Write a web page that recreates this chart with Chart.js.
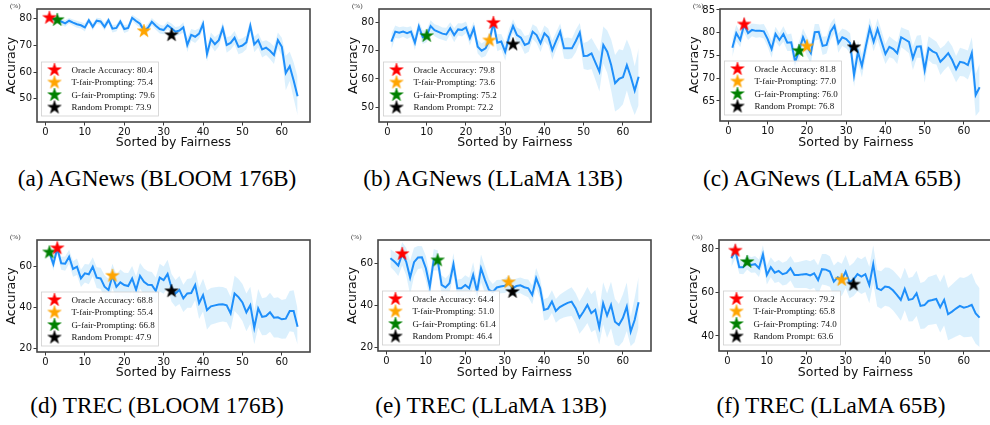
<!DOCTYPE html>
<html>
<head>
<meta charset="utf-8">
<script src="https://cdn.jsdelivr.net/npm/chart.js@4.4.0/dist/chart.umd.min.js"></script>
<style>
  body { margin: 0; background: #fff; }
  #wrap { position: relative; width: 990px; height: 425px; overflow: hidden; background: #fff; }
  canvas { position: absolute; }
  .cap { position: absolute; font-family: "Liberation Serif", "Times New Roman", serif; font-size: 24px;
         line-height: 24px; color: #000; white-space: nowrap; transform: translateX(-50%) scaleX(0.97); }
</style>
</head>
<body>
<div id="wrap">
  <canvas id="pa" width="330" height="160" style="left:0px;top:0px;width:330px;height:160px"></canvas>
  <canvas id="pb" width="330" height="160" style="left:330px;top:0px;width:330px;height:160px"></canvas>
  <canvas id="pc" width="340" height="160" style="left:660px;top:0px;width:340px;height:160px"></canvas>
  <canvas id="pd" width="330" height="165" style="left:0px;top:225px;width:330px;height:165px"></canvas>
  <canvas id="pe" width="330" height="165" style="left:330px;top:225px;width:330px;height:165px"></canvas>
  <canvas id="pf" width="340" height="165" style="left:660px;top:225px;width:340px;height:165px"></canvas>
  <div class="cap" style="left:157px;top:166px">(a) AGNews (BLOOM 176B)</div>
  <div class="cap" style="left:493px;top:166px">(b) AGNews (LLaMA 13B)</div>
  <div class="cap" style="left:832px;top:166px">(c) AGNews (LLaMA 65B)</div>
  <div class="cap" style="left:157px;top:393px">(d) TREC (BLOOM 176B)</div>
  <div class="cap" style="left:491px;top:393px">(e) TREC (LLaMA 13B)</div>
  <div class="cap" style="left:831px;top:393px">(f) TREC (LLaMA 65B)</div>
</div>
<script>
/* ---------------------------- Data ------------------------------------*/

const xTicks = [0, 10, 20, 30, 40, 50, 60];
const legendNames = ['Oracle Accuracy', 'T-fair-Prompting', 'G-fair-Prompting', 'Random Prompt'];
const starColors = ['#ff0000', '#ffa500', '#008000', '#000000'];

// (a) AGNews, BLOOM 176B
const meanA = [80.4, 79.8, 79.6, 79.0, 78.3, 79.3, 78.6, 78.0, 77.6, 76.8,
               79.5, 77.0, 79.3, 79.0, 77.0, 79.5, 76.3, 76.6, 79.0, 76.2,
               76.6, 80.4, 79.2, 78.2, 75.6, 76.6, 78.9, 77.4, 76.2, 75.8,
               77.6, 76.5, 75.2, 75.6, 76.8, 70.2, 74.0, 73.3, 74.5, 78.1,
               66.8, 72.4, 70.5, 72.0, 76.5, 70.2, 71.0, 72.9, 69.5, 70.0,
               71.2, 77.4, 70.4, 72.0, 68.5, 69.2, 68.0, 66.4, 72.0, 69.5,
               59.7, 62.2, 56.9, 51.0];
const spreadA = [1.0, 1.0, 1.1, 1.2, 1.3, 1.0, 1.2, 1.3, 1.2, 1.5,
                 1.0, 1.4, 1.1, 1.2, 1.5, 1.1, 1.4, 1.3, 1.2, 1.5,
                 1.3, 1.1, 1.4, 1.5, 1.3, 1.6, 1.4, 1.5, 1.7, 1.6,
                 1.5, 1.8, 1.7, 1.6, 1.9, 2.6, 2.2, 2.4, 2.0, 1.9,
                 2.8, 2.5, 2.7, 2.4, 2.2, 2.9, 2.6, 2.5, 2.8, 2.7,
                 2.6, 2.3, 2.9, 2.7, 3.0, 2.8, 3.1, 3.3, 2.9, 3.4,
                 6.5, 5.5, 6.8, 7.2];
const starXA = [1, 25, 3, 32];
const starYA = [80.4, 75.4, 79.6, 73.9];
const yTicksA = [50, 60, 70, 80];

// (b) AGNews, LLaMA 13B
const meanB = [73.2, 76.7, 76.3, 76.7, 76.2, 76.7, 72.8, 78.5, 74.7, 75.2,
               78.7, 77.2, 76.6, 76.0, 75.7, 77.9, 75.5, 77.5, 77.3, 78.2,
               74.4, 77.9, 71.4, 70.0, 70.8, 73.6, 79.8, 72.8, 73.2, 69.6,
               74.9, 78.7, 75.5, 74.6, 72.0, 72.6, 76.7, 75.5, 72.6, 76.1,
               74.7, 70.2, 73.5, 76.7, 70.8, 70.8, 70.8, 73.4, 76.4, 68.1,
               68.2, 69.0, 65.8, 62.6, 72.0, 69.6, 64.9, 58.5, 60.0, 60.6,
               64.9, 60.8, 55.9, 60.8];
const spreadB = [2.8, 2.2, 2.0, 1.8, 2.1, 1.9, 2.6, 2.0, 2.4, 2.2,
                 2.0, 2.1, 2.3, 2.2, 2.4, 2.1, 2.5, 2.2, 2.3, 2.1,
                 2.6, 2.3, 2.4, 2.5, 2.7, 2.8, 2.6, 3.0, 2.7, 3.1,
                 2.8, 2.4, 2.7, 2.9, 3.2, 3.0, 2.6, 2.9, 3.1, 2.8,
                 3.0, 3.4, 3.1, 2.9, 3.6, 3.8, 3.5, 4.0, 3.4, 4.6,
                 5.0, 5.5, 6.2, 7.0, 6.5, 7.5, 9.0, 10.0, 10.5, 9.5,
                 9.0, 9.8, 8.6, 10.0];
const starXB = [27, 26, 10, 32];
const starYB = [79.8, 73.6, 75.2, 72.2];
const yTicksB = [50, 60, 70, 80];

// (c) AGNews, LLaMA 65B
const meanC = [76.7, 79.9, 78.4, 81.8, 79.9, 80.6, 80.4, 80.4, 80.3, 78.6,
               76.4, 79.7, 78.4, 79.7, 77.8, 77.9, 73.6, 76.0, 79.0, 77.0,
               75.5, 80.1, 80.2, 77.1, 77.3, 80.2, 81.5, 77.7, 79.0, 78.6,
               77.7, 70.7, 75.8, 72.7, 77.0, 81.0, 78.0, 80.8, 78.0, 75.3,
               76.9, 76.4, 75.5, 79.0, 78.5, 78.0, 74.4, 76.9, 77.0, 71.8,
               76.6, 75.9, 75.5, 73.6, 74.5, 75.5, 74.0, 72.0, 73.6, 73.4,
               72.9, 75.5, 66.3, 68.0];
const spreadC = [2.0, 1.8, 1.6, 1.8, 1.5, 1.4, 1.5, 1.4, 1.6, 1.7,
                 1.9, 1.6, 1.5, 1.7, 1.8, 1.9, 2.3, 2.0, 1.9, 2.1,
                 2.2, 1.8, 1.7, 2.0, 1.9, 1.8, 1.7, 2.1, 1.9, 2.0,
                 2.2, 2.6, 2.4, 2.5, 2.3, 2.2, 2.1, 2.3, 2.4, 2.2,
                 2.3, 2.1, 2.4, 2.2, 2.3, 2.5, 2.6, 2.4, 2.5, 2.8,
                 2.6, 2.7, 2.5, 2.9, 2.7, 2.8, 3.0, 2.9, 3.1, 3.0,
                 3.2, 3.5, 4.6, 5.2];
const starXC = [4, 20, 18, 32];
const starYC = [81.8, 77.0, 76.0, 76.8];
const yTicksC = [65, 70, 75, 80, 85];

// (d) TREC, BLOOM 176B
const meanD = [66.8, 61.0, 68.8, 61.5, 61.3, 64.7, 58.7, 59.8, 54.1, 56.6,
               56.1, 59.8, 54.5, 54.1, 50.1, 48.5, 55.4, 50.0, 52.2, 50.9,
               50.4, 54.1, 48.5, 55.4, 52.5, 51.0, 50.9, 48.0, 54.5, 53.3,
               56.3, 49.5, 46.8, 48.5, 44.4, 46.8, 47.0, 50.9, 42.0, 46.0,
               38.7, 40.5, 41.0, 41.4, 41.5, 41.0, 37.1, 46.8, 45.0, 42.4,
               37.6, 41.1, 30.1, 39.5, 35.4, 35.8, 37.6, 35.0, 35.2, 34.2,
               34.5, 38.2, 38.2, 30.6];
const spreadD = [2.5, 3.0, 2.8, 3.2, 3.5, 3.4, 3.8, 4.0, 4.2, 4.5,
                 4.8, 4.6, 5.0, 5.2, 5.5, 5.4, 5.8, 6.0, 6.2, 6.0,
                 6.3, 6.1, 6.5, 6.2, 6.4, 6.6, 6.3, 6.5, 6.8, 6.6,
                 6.9, 6.7, 6.5, 6.8, 6.6, 7.0, 7.2, 7.4, 7.6, 8.0,
                 9.5, 9.0, 8.8, 8.6, 8.4, 8.2, 8.0, 8.6, 8.8, 9.0,
                 9.2, 9.0, 8.0, 9.4, 9.0, 9.2, 9.5, 9.6, 9.8, 9.4,
                 9.6, 9.8, 10.2, 8.6];
const starXD = [3, 17, 1, 32];
const starYD = [68.8, 55.4, 66.8, 47.9];
const yTicksD = [20, 40, 60];

// (e) TREC, LLaMA 13B
const meanE = [62.4, 60.8, 58.9, 64.4, 60.8, 53.2, 60.5, 62.7, 62.8, 57.6,
               48.9, 61.6, 61.4, 49.7, 48.5, 50.5, 59.5, 48.1, 48.1, 49.7,
               48.1, 54.5, 46.6, 57.6, 52.1, 47.4, 46.4, 48.5, 49.0, 49.3,
               50.6, 48.2, 49.2, 49.5, 48.6, 48.1, 45.0, 52.9, 48.1, 37.9,
               38.5, 41.8, 37.4, 39.2, 40.3, 41.2, 41.8, 38.7, 34.2, 37.0,
               40.2, 36.3, 37.9, 29.5, 41.0, 35.2, 40.2, 32.3, 30.7, 34.0,
               39.4, 27.6, 33.1, 41.5];
const spreadE = [4.2, 4.5, 5.0, 5.5, 6.5, 8.0, 6.8, 5.5, 5.2, 5.8,
                 5.5, 5.0, 4.8, 4.6, 4.4, 4.5, 5.2, 4.2, 4.4, 4.6,
                 5.0, 6.0, 4.8, 6.5, 6.2, 5.0, 3.8, 3.5, 3.2, 3.4,
                 3.6, 3.8, 3.5, 3.7, 3.9, 4.2, 4.4, 4.8, 4.6, 5.0,
                 5.2, 5.4, 5.6, 5.8, 6.0, 6.4, 6.8, 7.2, 7.6, 8.0,
                 8.5, 9.0, 9.4, 8.0, 10.0, 10.5, 11.0, 10.8, 10.0, 11.2,
                 11.5, 7.0, 10.5, 12.0];
const starXE = [4, 31, 13, 32];
const starYE = [64.4, 51.0, 61.4, 46.4];
const yTicksE = [20, 40, 60];

// (f) TREC, LLaMA 65B
const meanF = [75.7, 79.2, 71.6, 71.6, 74.0, 72.6, 73.0, 71.1, 77.5, 68.0,
               71.6, 69.1, 69.9, 68.4, 69.0, 71.1, 68.0, 68.0, 68.3, 68.5,
               67.8, 68.8, 65.7, 70.7, 70.5, 69.6, 65.0, 67.0, 65.8, 69.6,
               64.7, 66.0, 68.4, 67.3, 68.4, 63.4, 73.0, 61.9, 61.1, 62.7,
               62.4, 61.0, 58.9, 56.6, 61.6, 56.6, 57.0, 59.6, 53.8, 54.2,
               56.1, 56.5, 57.0, 53.2, 56.6, 50.0, 51.2, 52.6, 53.8, 53.0,
               53.5, 54.3, 50.4, 48.4];
const spreadF = [4.0, 3.5, 3.0, 3.2, 3.4, 3.6, 3.8, 4.0, 4.2, 4.4,
                 4.6, 4.8, 5.0, 5.2, 5.4, 5.6, 5.8, 6.0, 6.2, 6.4,
                 6.5, 6.6, 6.8, 7.0, 7.2, 7.0, 7.4, 7.2, 7.4, 7.6,
                 7.4, 7.6, 7.8, 8.0, 8.2, 8.4, 8.6, 8.4, 8.6, 8.8,
                 9.0, 9.2, 9.4, 9.6, 9.8, 10.0, 10.2, 10.4, 10.6, 10.8,
                 11.0, 11.2, 11.4, 11.6, 11.8, 12.0, 12.4, 12.8, 13.2, 13.6,
                 14.0, 14.5, 14.0, 13.5];
const starXF = [2, 29, 5, 32];
const starYF = [79.2, 65.8, 74.0, 63.6];
const yTicksF = [40, 60, 80];

/* ---------------------------- Panels ------------------------------------*/

// area = [left, right, top, bottom] of the plot box inside each canvas
const panels = [
  { id: 'pa', w: 330, h: 160, area: [37, 310, 9, 122],  yMin: 41.3, yMax: 83.7, mean: meanA, spread: spreadA, sx: starXA, sy: starYA, yTicks: yTicksA },
  { id: 'pb', w: 330, h: 160, area: [49, 321, 9, 122],  yMin: 44.8, yMax: 84.7, mean: meanB, spread: spreadB, sx: starXB, sy: starYB, yTicks: yTicksB },
  { id: 'pc', w: 340, h: 160, area: [60, 332, 9, 121],  yMin: 60.6, yMax: 85.2, mean: meanC, spread: spreadC, sx: starXC, sy: starYC, yTicks: yTicksC },
  { id: 'pd', w: 330, h: 165, area: [37, 310, 15, 127], yMin: 18.3, yMax: 72.8, mean: meanD, spread: spreadD, sx: starXD, sy: starYD, yTicks: yTicksD },
  { id: 'pe', w: 330, h: 165, area: [48, 321, 15, 126], yMin: 18.4, yMax: 71.0, mean: meanE, spread: spreadE, sx: starXE, sy: starYE, yTicks: yTicksE },
  { id: 'pf', w: 340, h: 165, area: [59, 332, 15, 126], yMin: 33.1, yMax: 84.1, mean: meanF, spread: spreadF, sx: starXF, sy: starYF, yTicks: yTicksF },
];

// filled 5-point star used as point style
function makeStar(color, r) {
  const c = document.createElement('canvas');
  const s = Math.ceil(r * 2 + 2);
  c.width = s; c.height = s;
  const g = c.getContext('2d');
  g.beginPath();
  for (let k = 0; k < 10; k++) {
    const rr = k % 2 ? r * 0.39 : r;
    const a = -Math.PI / 2 + k * Math.PI / 5;
    g.lineTo(s / 2 + rr * Math.cos(a), s / 2 + rr * Math.sin(a));
  }
  g.closePath();
  g.fillStyle = color;
  g.fill();
  g.lineWidth = 0.5;
  g.strokeStyle = color;
  g.stroke();
  return c;
}
const stars = starColors.map(c => makeStar(c, 7));

const tickFont = { family: 'DejaVu Sans', size: 10 };
const titleFont = { family: 'DejaVu Sans', size: 12.5 };

function makeChart(p) {
  const ranks = p.mean.map((_, i) => i + 1);
  const pts = arr => arr.map((v, i) => ({ x: ranks[i], y: v }));
  const upper = p.mean.map((v, i) => v + p.spread[i]);
  const lower = p.mean.map((v, i) => v - p.spread[i]);

  const starSets = stars.map((img, k) => ({
    data: [{ x: p.sx[k], y: p.sy[k] }],
    showLine: false, pointStyle: img, pointRadius: 6, borderWidth: 0
  }));

  // frame, legend box and the little (%) note
  const decor = {
    id: 'decor',
    afterDatasetsDraw(chart) {
      const ctx = chart.ctx, a = chart.chartArea;
      ctx.save();
      ctx.strokeStyle = '#454545';
      ctx.lineWidth = 1.6;
      ctx.strokeRect(a.left, a.top, a.right - a.left, a.bottom - a.top);

      const bw = 117, bh = 54;
      const bx = a.left + 4.5, by = a.bottom - 6 - bh;
      ctx.fillStyle = 'rgba(255,255,255,0.85)';
      ctx.fillRect(bx, by, bw, bh);
      ctx.strokeStyle = '#cfcfcf';
      ctx.lineWidth = 0.8;
      ctx.strokeRect(bx, by, bw, bh);

      ctx.font = '9px "Liberation Serif"';
      ctx.fillStyle = '#111';
      ctx.textAlign = 'left';
      ctx.textBaseline = 'middle';
      [8, 20.5, 33, 45.5].forEach((dy, k) => {
        const img = stars[k];
        ctx.drawImage(img, bx + 13 - img.width / 2, by + dy - img.height / 2);
        ctx.fillText(legendNames[k] + ': ' + p.sy[k].toFixed(1), bx + 30, by + dy + 0.5);
      });

      ctx.font = '7px "Liberation Serif"';
      ctx.fillStyle = '#333';
      ctx.fillText('(%)', a.left - 27, a.top - 3);
      ctx.restore();
    }
  };

  const grid = { drawOnChartArea: false, drawTicks: true, tickLength: 3.5, color: '#222', lineWidth: 0.9 };

  new Chart(document.getElementById(p.id), {
    type: 'line',
    data: {
      datasets: [
        ...starSets,
        { data: pts(p.mean), borderColor: '#1f8ffa', borderWidth: 2, pointRadius: 0, tension: 0 },
        { data: pts(upper), borderWidth: 0, borderColor: 'rgba(0,0,0,0)', pointRadius: 0, fill: '+1',
          backgroundColor: 'rgba(135,206,250,0.3)' },
        { data: pts(lower), borderWidth: 0, borderColor: 'rgba(0,0,0,0)', pointRadius: 0, fill: false }
      ]
    },
    options: {
      responsive: false,
      animation: false,
      devicePixelRatio: 1,
      events: [],
      layout: { padding: { left: 0, top: p.area[2], right: p.w - p.area[1], bottom: 0 } },
      plugins: { legend: { display: false }, tooltip: { enabled: false } },
      scales: {
        x: {
          type: 'linear', min: -2.15, max: 67.15,
          afterBuildTicks: s => { s.ticks = xTicks.map(v => ({ value: v })); },
          afterFit: s => { s.height = p.h - p.area[3]; s.paddingLeft = 0; s.paddingRight = 0; },
          grid: grid,
          border: { display: false },
          ticks: { font: tickFont, color: '#111', padding: 1, maxRotation: 0, autoSkip: false },
          title: { display: true, text: 'Sorted by Fairness', font: titleFont, color: '#111',
                   padding: { top: 0, bottom: 10 } }
        },
        y: {
          type: 'linear', min: p.yMin, max: p.yMax,
          afterBuildTicks: s => { s.ticks = p.yTicks.map(v => ({ value: v })); },
          afterFit: s => { s.width = p.area[0]; s.paddingTop = 0; s.paddingBottom = 0; },
          grid: grid,
          border: { display: false },
          ticks: { font: tickFont, color: '#111', padding: 1.5, autoSkip: false },
          title: { display: true, text: 'Accuracy', font: titleFont, color: '#111',
                   padding: { top: p.area[0] - 33, bottom: 0 } }
        }
      }
    },
    plugins: [decor]
  });
}

panels.forEach(makeChart);
</script>
</body>
</html>
